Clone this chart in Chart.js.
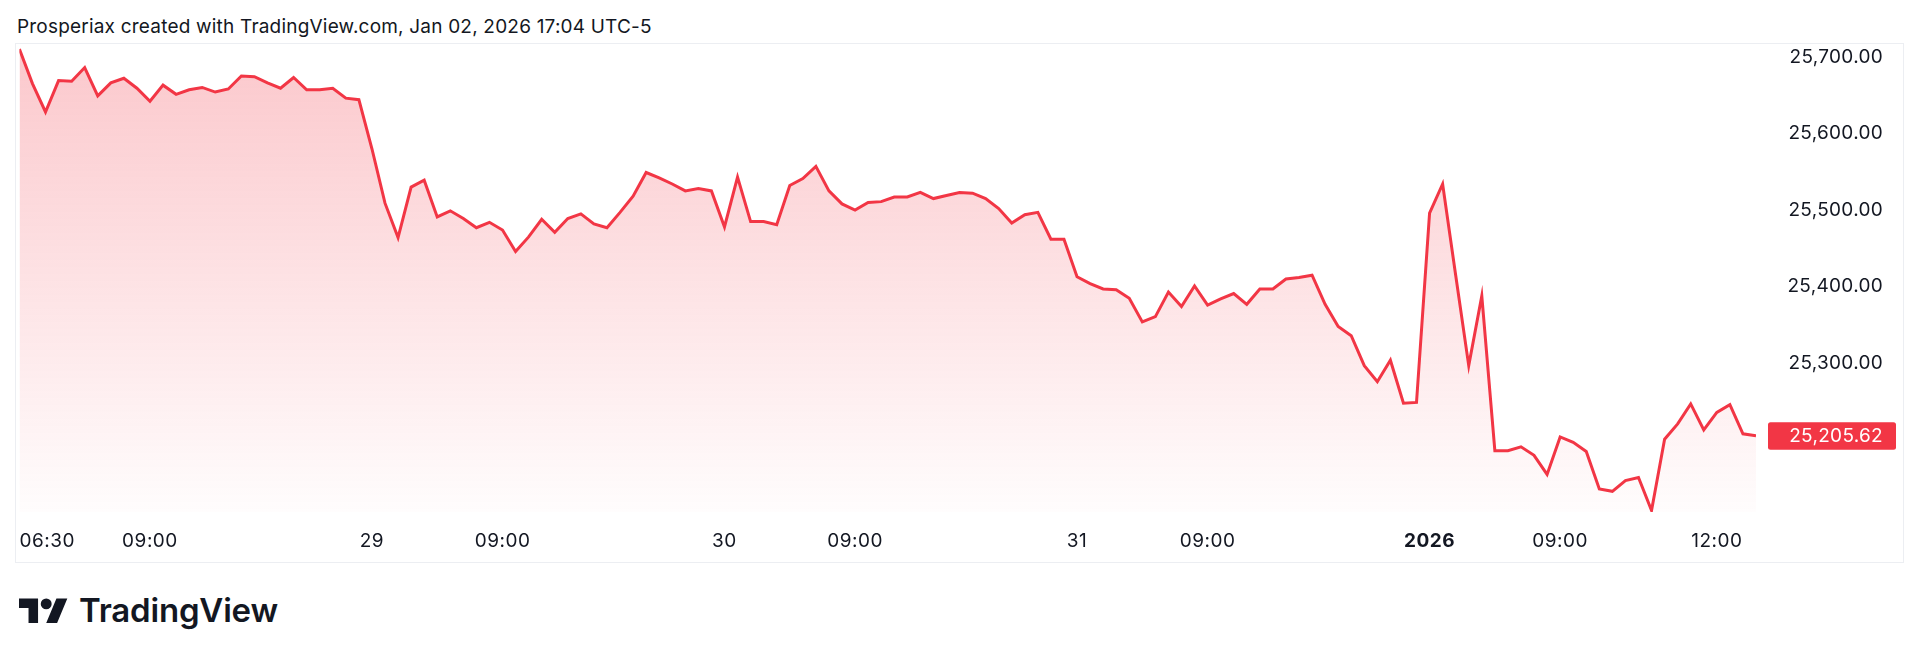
<!DOCTYPE html>
<html>
<head>
<meta charset="utf-8">
<script src="https://cdn.jsdelivr.net/npm/chart.js@4.4.1/dist/chart.umd.min.js"></script>
<style>
  html, body { margin:0; padding:0; background:#ffffff; width:1920px; height:660px; overflow:hidden; font-family: Inter, "Noto Sans", sans-serif; }
  #title { position:absolute; left:17px; top:15px; font-size:19px; line-height:24px; color:#131722; white-space:nowrap; letter-spacing:0.2px; }
  #wrap { position:absolute; left:0; top:0; width:1920px; height:562px; }
  #frame { position:absolute; left:15px; top:43px; width:1889px; height:520px; box-sizing:border-box; border:1px solid #eceef2; pointer-events:none; }
  #logo { position:absolute; left:19.3px; top:592.8px; width:49px; height:38.2px; }
  #logotext { position:absolute; left:79px; top:593.8px; font-size:33px; line-height:33px; font-weight:600; color:#131722; white-space:nowrap; letter-spacing:-0.2px; }
</style>
</head>
<body>
<div id="title">Prosperiax created with TradingView.com, Jan 02, 2026 17:04 UTC-5</div>
<div id="wrap"><canvas id="c"></canvas></div>
<div id="frame"></div>
<svg id="logo" viewBox="0 0 36 28" xmlns="http://www.w3.org/2000/svg"><path fill="#131722" d="M14 22H7V11H0V4h14v18zM28 22h-8l7.5-18h8L28 22z"/><circle fill="#131722" cx="20" cy="8" r="4"/></svg>
<div id="logotext">TradingView</div>
<script>
// 15-minute closes, Dec 26 2025 06:30 -> Jan 02 2026 12:45 (bar index 0..133)
const closePrices = [
  25710, 25665, 25628, 25669, 25668, 25686, 25649, 25666, 25672, 25659,
  25642, 25663, 25651, 25657, 25660, 25654, 25658, 25675, 25674, 25666,
  25659, 25673, 25657, 25657, 25659, 25646, 25644,
  25580, 25509, 25464, 25530, 25539, 25491, 25499, 25489, 25477, 25484,
  25474, 25446, 25465, 25488, 25471, 25489, 25495, 25482, 25477, 25497,
  25518, 25549, 25542, 25534, 25525, 25528, 25525,
  25478, 25543, 25485, 25485, 25481, 25532, 25541, 25557, 25525, 25508,
  25500, 25510, 25511, 25517, 25517, 25523, 25515, 25519, 25523, 25522,
  25515, 25502, 25483, 25494, 25497, 25462, 25462,
  25413, 25404, 25397, 25396, 25385, 25354, 25361, 25393, 25374, 25401,
  25376, 25384, 25391, 25377, 25397, 25397, 25410, 25412, 25415, 25377,
  25348, 25336, 25297, 25276, 25304, 25248, 25249,
  25496, 25534, 25415, 25297, 25388, 25186, 25186, 25191, 25180, 25155,
  25204, 25197, 25185, 25136, 25133, 25147, 25151, 25108, 25201, 25221,
  25247, 25213, 25236, 25246, 25208, 25205.62
];
const xTickIndex  = [0, 10, 27, 37, 54, 64, 81, 91, 108, 118, 130, 133];
const xTickLabels = ['06:30', '09:00', '29', '09:00', '30', '09:00', '31', '09:00', '2026', '09:00', '12:00', ''];
const yTickValues = [25300, 25400, 25500, 25600, 25700];
const yMin = 25106, yMax = 25718;
const lastPriceLabel = '25,205.62';

const RED = '#F23645';
const TXT = '#131722';
const FONT = 'Inter, "Noto Sans", sans-serif';

const points = closePrices.map((v, i) => ({ x: i, y: v }));

const spacing = {
  id: 'spacing',
  beforeDraw(chart) { chart.ctx.letterSpacing = '0.5px'; }
};

const overlay = {
  id: 'overlay',
  afterDraw(chart) {
    const ctx = chart.ctx;
    const ys = chart.scales.y;
    ctx.save();
    ctx.letterSpacing = '0.3px';
    ctx.font = '19px ' + FONT;
    ctx.fillStyle = TXT;
    ctx.textAlign = 'right';
    ctx.textBaseline = 'middle';
    for (const t of ys.ticks) {
      ctx.fillText(t.label, 1883, ys.getPixelForValue(t.value));
    }
    // last price badge
    const last = closePrices[closePrices.length - 1];
    const py = ys.getPixelForValue(last);
    ctx.fillStyle = RED;
    ctx.beginPath();
    ctx.roundRect(1768, py - 13.5, 128, 27.5, 2.5);
    ctx.fill();
    ctx.fillStyle = '#ffffff';
    ctx.fillText(lastPriceLabel, 1883, py + 0.5);
    ctx.restore();
  }
};

new Chart(document.getElementById('c'), {
  type: 'line',
  data: {
    datasets: [{
      data: points,
      borderColor: RED,
      borderWidth: 3,
      pointRadius: 0,
      tension: 0,
      fill: 'start',
      backgroundColor: (c) => {
        const a = c.chart.chartArea;
        if (!a) return 'rgba(242,54,69,0.15)';
        const g = c.chart.ctx.createLinearGradient(0, a.top, 0, a.bottom);
        g.addColorStop(0, 'rgba(242,54,69,0.28)');
        g.addColorStop(1, 'rgba(242,54,69,0.01)');
        return g;
      }
    }]
  },
  options: {
    responsive: true,
    maintainAspectRatio: false,
    animation: false,
    devicePixelRatio: 1,
    layout: { padding: { top: 43, left: 19.4, right: 164, bottom: 0 } },
    plugins: { legend: { display: false }, tooltip: { enabled: false } },
    scales: {
      x: {
        type: 'linear',
        min: 0,
        max: closePrices.length - 1,
        grid: { display: false, drawTicks: false, tickLength: 0 },
        border: { display: false },
        afterBuildTicks: (s) => { s.ticks = xTickIndex.map(v => ({ value: v })); },
        afterFit: (s) => { s.height = 50; },
        ticks: {
          autoSkip: false,
          maxRotation: 0,
          minRotation: 0,
          align: 'inner',
          padding: 18,
          color: TXT,
          font: (c) => ({ family: FONT, size: 19, weight: (c.tick && c.tick.label === '2026') ? 'bold' : 'normal' }),
          callback: (v, i) => xTickLabels[i]
        }
      },
      y: {
        display: false,
        min: yMin,
        max: yMax,
        afterBuildTicks: (s) => { s.ticks = yTickValues.map(v => ({ value: v })); },
        ticks: {
          callback: (v) => v.toLocaleString('en-US', { minimumFractionDigits: 2, maximumFractionDigits: 2 })
        }
      }
    }
  },
  plugins: [spacing, overlay]
});
</script>
</body>
</html>
